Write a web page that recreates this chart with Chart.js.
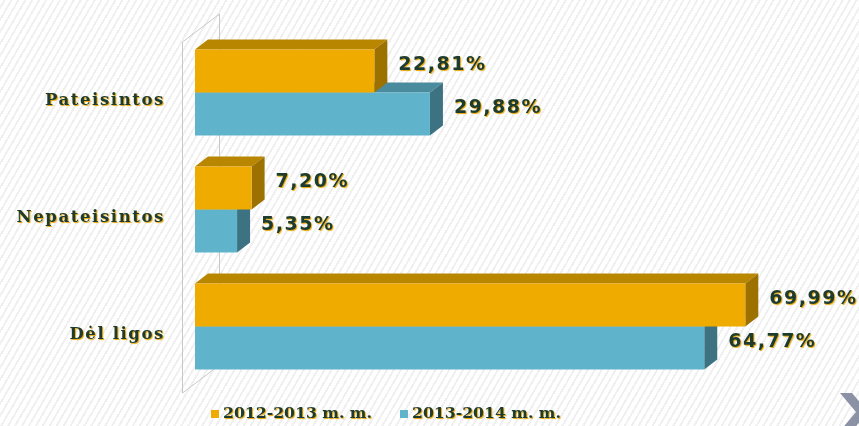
<!DOCTYPE html>
<html>
<head>
<meta charset="utf-8">
<script src="https://cdn.jsdelivr.net/npm/chart.js@4"></script>
<style>
  html, body { margin: 0; padding: 0; }
  body {
    width: 859px; height: 426px; overflow: hidden;
    background: repeating-linear-gradient(120deg, #ffffff 0 3px, #f0f0f0 3px 5px, #ffffff 5px 6px);
  }
  canvas { display: block; }
</style>
</head>
<body>
<canvas id="absenceChart" width="859" height="426"></canvas>
<script>
const categories = ["Pateisintos", "Nepateisintos", "Dėl ligos"];
const values2012 = [22.81, 7.20, 69.99];
const values2013 = [29.88, 5.35, 64.77];
const seriesNames = ["2012-2013 m. m.", "2013-2014 m. m."];

const textColor = "#1d3b2e";
const shadowColor = "#e8a400";
// front, top, side colours per series
const faces = [
  { front: "#f0ab00", top: "#b98600", side: "#9d7100" },
  { front: "#5fb3cb", top: "#4a8c9e", side: "#3d7282" },
];
const DX = 13, DY = 10;

function fmt(v) {
  return v.toFixed(2).replace(".", ",") + "%";
}

function poly(ctx, pts, color) {
  ctx.beginPath();
  ctx.moveTo(pts[0][0], pts[0][1]);
  for (let i = 1; i < pts.length; i++) ctx.lineTo(pts[i][0], pts[i][1]);
  ctx.closePath();
  ctx.fillStyle = color;
  ctx.fill();
}

function setShadow(ctx) {
  ctx.shadowColor = shadowColor;
  ctx.shadowOffsetX = 1;
  ctx.shadowOffsetY = 1;
  ctx.shadowBlur = 1;
}

const bars3d = {
  id: "bars3d",
  beforeDraw(chart) {
    // shadow + spacing for axis labels
    setShadow(chart.ctx);
    chart.ctx.letterSpacing = "1.6px";
  },
  beforeDatasetsDraw(chart) {
    const ctx = chart.ctx;
    const a = chart.chartArea;
    ctx.shadowColor = "rgba(0,0,0,0)";
    ctx.letterSpacing = "0px";
    ctx.save();
    // back wall
    const fx = a.left - 13, bx = a.left + 24;
    const ft = a.top + 8, fb = a.bottom + 8;
    ctx.strokeStyle = "#c8c8c8";
    ctx.lineWidth = 1;
    ctx.beginPath();
    ctx.moveTo(fx + 0.5, ft);
    ctx.lineTo(bx + 0.5, ft - 28);
    ctx.lineTo(bx + 0.5, fb - 28);
    ctx.lineTo(fx + 0.5, fb);
    ctx.closePath();
    ctx.stroke();
    // top + side faces, lower series first
    [1, 0].forEach((di) => {
      chart.getDatasetMeta(di).data.forEach((bar) => {
        const p = bar.getProps(["x", "y", "base", "height"], true);
        const top = p.y - p.height / 2, bot = p.y + p.height / 2;
        poly(ctx, [[p.base, top], [p.base + DX, top - DY], [p.x + DX, top - DY], [p.x, top]], faces[di].top);
        poly(ctx, [[p.x, top], [p.x + DX, top - DY], [p.x + DX, bot - DY], [p.x, bot]], faces[di].side);
      });
    });
    ctx.restore();
  },
  afterDatasetsDraw(chart) {
    const ctx = chart.ctx;
    ctx.save();
    setShadow(ctx);
    ctx.letterSpacing = "1.5px";
    ctx.font = "bold 19px 'DejaVu Sans'";
    ctx.fillStyle = textColor;
    ctx.textBaseline = "middle";
    ctx.textAlign = "left";
    chart.data.datasets.forEach((ds, di) => {
      chart.getDatasetMeta(di).data.forEach((bar, i) => {
        const p = bar.getProps(["x", "y"], true);
        ctx.fillText(fmt(ds.data[i]), p.x + DX + 11, p.y - 6);
      });
    });
    ctx.restore();
  },
  afterDraw(chart) {
    const ctx = chart.ctx;
    ctx.save();
    // legend
    ctx.font = "bold 15.7px 'DejaVu Serif'";
    ctx.textBaseline = "middle";
    let x = 211;
    const y = 414;
    chart.data.datasets.forEach((ds, di) => {
      ctx.shadowColor = "rgba(0,0,0,0)";
      ctx.fillStyle = faces[di].front;
      ctx.fillRect(x, y - 4, 8, 8);
      setShadow(ctx);
      ctx.fillStyle = textColor;
      ctx.fillText(ds.label, x + 12, y);
      x = 400;
    });
    // slide nav arrow
    ctx.shadowColor = "rgba(0,0,0,0)";
    poly(ctx, [[840, 393], [852, 393], [868, 412], [852, 431], [840, 431], [856, 412]], "#8c92a6");
    ctx.restore();
  },
};

const ctx = document.getElementById("absenceChart").getContext("2d");

const absenceChart = new Chart(ctx, {
  type: "bar",
  data: {
    labels: categories,
    datasets: [
      { label: seriesNames[0], data: values2012, backgroundColor: faces[0].front, borderWidth: 0 },
      { label: seriesNames[1], data: values2013, backgroundColor: faces[1].front, borderWidth: 0 },
    ],
  },
  options: {
    indexAxis: "y",
    responsive: false,
    animation: false,
    barPercentage: 1,
    categoryPercentage: 0.735,
    layout: {
      padding: { top: 34, bottom: 41, right: 35, left: 0 },
    },
    plugins: {
      legend: { display: false },
      tooltip: { enabled: false },
    },
    scales: {
      x: {
        min: 0,
        max: 80,
        display: false,
      },
      y: {
        afterFit(scale) {
          scale.width = 195;
          scale.paddingTop = 0;
          scale.paddingBottom = 0;
        },
        grid: { display: false, drawTicks: false },
        border: { display: false },
        ticks: {
          padding: 30,
          labelOffset: 8,
          color: textColor,
          font: { family: "'DejaVu Serif'", size: 16.5, weight: "bold" },
        },
      },
    },
  },
  plugins: [bars3d],
});
</script>
</body>
</html>
